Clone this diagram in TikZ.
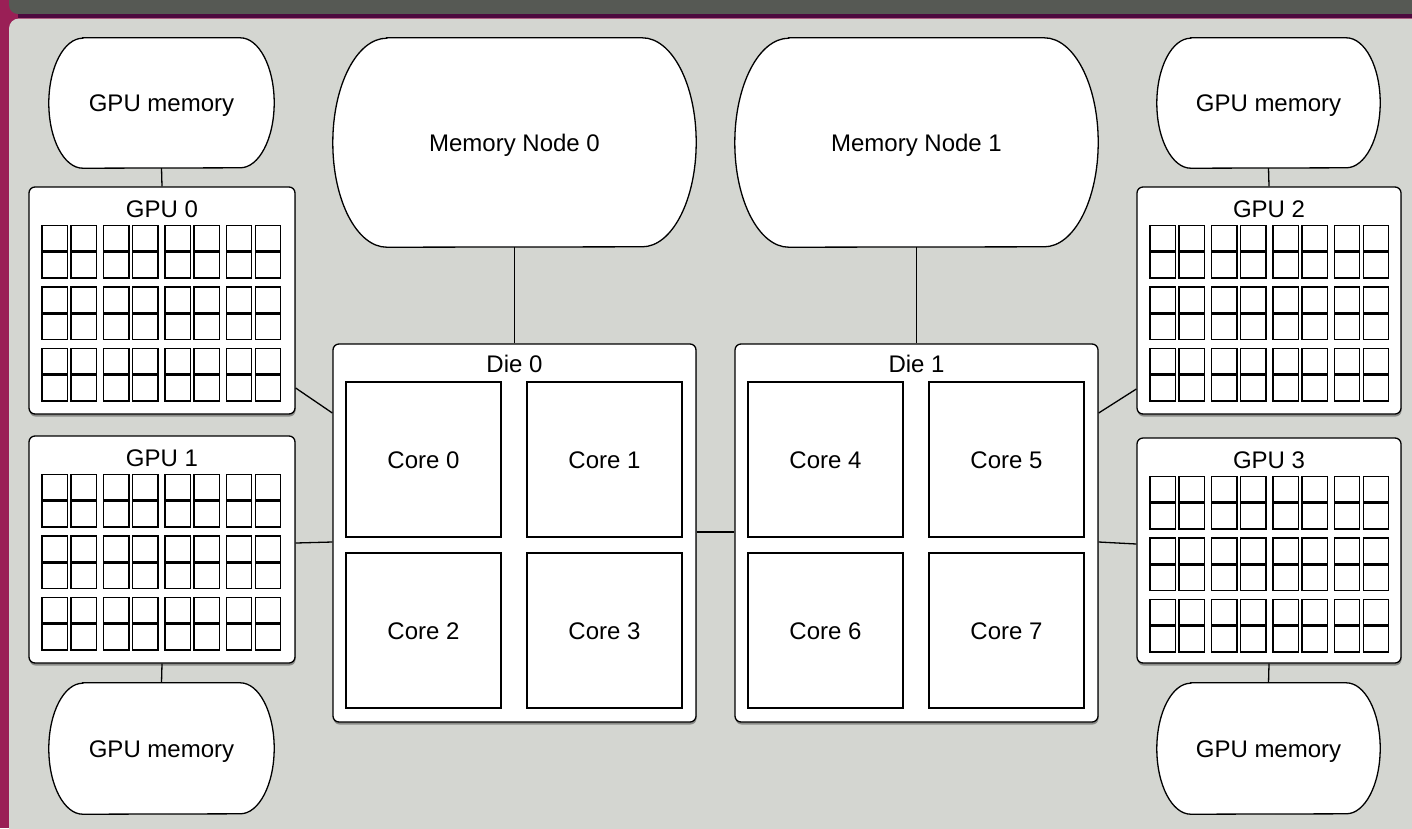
\documentclass[tikz,border=0pt]{standalone}
\usepackage{fontspec}
\setmainfont{Liberation Sans}
\usetikzlibrary{shadows}
\definecolor{maroon}{HTML}{9A1F56}
\definecolor{topbar}{HTML}{565954}
\definecolor{pline}{HTML}{4D0A3F}
\definecolor{panel}{HTML}{D4D6D1}
\pgfdeclarelayer{back}
\pgfdeclarelayer{shapes}
\pgfsetlayers{back,shapes,main}
\tikzset{
  lbl/.style={font=\fontsize{24}{28}\selectfont, text=black, inner sep=0pt, text height=17.2pt, text depth=0pt},
  memnode/.style={lbl, draw=none},
  memline/.style={draw=black, line width=1.3pt, fill=white},
  boxstyle/.style={draw=black, line width=1.3pt, fill=white, rounded corners=6pt, inner sep=0pt,
     drop shadow={shadow xshift=0.5pt, shadow yshift=-2.5pt, fill=black, opacity=0.35}},
  corestyle/.style={draw=black, line width=1.3pt, fill=white, inner sep=0pt,
     minimum width=155pt, minimum height=155pt, font=\fontsize{24}{28}\selectfont,
     text height=17.2pt, text depth=0pt},
  cell/.style={draw=black, line width=1.4pt, fill=white},
  wire/.style={draw=black, line width=1.3pt},
}
\newcommand\memdraw[3]{%
  \draw[memline] ([xshift=#2pt]#1.north west) -- ([xshift=-#2pt]#1.north east)
    arc[start angle=90, end angle=-90, x radius=#2pt, y radius=#3pt]
    -- ([xshift=#2pt]#1.south west)
    arc[start angle=270, end angle=90, x radius=#2pt, y radius=#3pt] -- cycle;}
\newcommand\gpugrid[1]{%
  \foreach \p in {0,1,2,3}{\foreach \c in {0,1}{\foreach \q in {0,1,2}{\foreach \r in {0,1}{%
    \draw[cell] ([xshift={13.7pt+\p*61.4pt+\c*29pt}, yshift={-39pt-\q*61.5pt-\r*27pt}]#1.north west) rectangle ++(25.5,25.5);}}}}}
\begin{document}
\begin{tikzpicture}[x=1pt,y=-1pt]
\useasboundingbox (0,0) rectangle (1412,828);
\begin{pgfonlayer}{back}
  \fill[maroon] (0,0) rectangle (1412,828);
  \fill[topbar, rounded corners=9pt] (9,-30) rectangle (1440,14);
  \fill[pline] (18,14) rectangle (1440,17.5);
  \fill[panel, rounded corners=10pt] (9,18.5) rectangle (1440,860);
\end{pgfonlayer}

% memory nodes
\node[memnode, minimum width=225pt, minimum height=130pt] (gm0) at (161.5,103) {GPU memory};
\node[memnode, minimum width=225pt, minimum height=131pt] (gm1) at (161.5,748.5) {GPU memory};
\node[memnode, minimum width=223pt, minimum height=130pt] (gm2) at (1268.5,103) {GPU memory};
\node[memnode, minimum width=223pt, minimum height=131pt] (gm3) at (1268.5,748.5) {GPU memory};
\node[memnode, minimum width=363pt, minimum height=209pt] (mn0) at (514.5,142.5) {Memory Node 0};
\node[memnode, minimum width=363pt, minimum height=209pt] (mn1) at (916.5,142.5) {Memory Node 1};
\begin{pgfonlayer}{shapes}
  \memdraw{gm0}{34}{65}
  \memdraw{gm1}{34}{65.5}
  \memdraw{gm2}{34}{65}
  \memdraw{gm3}{34}{65.5}
  \memdraw{mn0}{54}{104.5}
  \memdraw{mn1}{54}{104.5}
\end{pgfonlayer}

% GPUs
\node[boxstyle, minimum width=266pt, minimum height=227pt] (gpu0) at (162,300.5) {};
\node[boxstyle, minimum width=266pt, minimum height=227pt] (gpu1) at (162,549.5) {};
\node[boxstyle, minimum width=264pt, minimum height=227pt] (gpu2) at (1269,300.5) {};
\node[boxstyle, minimum width=264pt, minimum height=225pt] (gpu3) at (1269,550.5) {};
\node[lbl] (gpu0l) at ([yshift=-23pt]gpu0.north) {GPU 0};
\node[lbl] (gpu1l) at ([yshift=-23pt]gpu1.north) {GPU 1};
\node[lbl] (gpu2l) at ([yshift=-23pt]gpu2.north) {GPU 2};
\node[lbl] (gpu3l) at ([yshift=-23pt]gpu3.north) {GPU 3};
\gpugrid{gpu0}
\gpugrid{gpu1}
\gpugrid{gpu2}
\gpugrid{gpu3}

% dies
\node[boxstyle, minimum width=363pt, minimum height=378pt] (die0) at (514.5,533) {};
\node[boxstyle, minimum width=363pt, minimum height=378pt] (die1) at (916.5,533) {};
\node[lbl] (die0l) at ([yshift=-21pt]die0.north) {Die 0};
\node[lbl] (die1l) at ([yshift=-21pt]die1.north) {Die 1};
\node[corestyle] (c0) at (423.5,459.5) {Core 0};
\node[corestyle] (c1) at (604.5,459.5) {Core 1};
\node[corestyle] (c2) at (423.5,630.5) {Core 2};
\node[corestyle] (c3) at (604.5,630.5) {Core 3};
\node[corestyle] (c4) at (825.5,459.5) {Core 4};
\node[corestyle] (c5) at (1006.5,459.5) {Core 5};
\node[corestyle] (c6) at (825.5,630.5) {Core 6};
\node[corestyle] (c7) at (1006.5,630.5) {Core 7};

% connectors
\draw[wire] (gm0.south) -- (gpu0.north);
\draw[wire] (gpu1.south) -- (gm1.north);
\draw[wire] (gm2.south) -- (gpu2.north);
\draw[wire] (gpu3.south) -- (gm3.north);
\draw[wire] (mn0.south) -- (die0.north);
\draw[wire] (mn1.south) -- (die1.north);
\draw[wire] ([yshift=-87.5pt]gpu0.east) -- ([yshift=120pt]die0.west);
\draw[wire] ([yshift=6.5pt]gpu1.east) -- ([yshift=-9pt]die0.west);
\draw[wire] ([yshift=1pt]die0.east) -- ([yshift=1pt]die1.west);
\draw[wire] ([yshift=120pt]die1.east) -- ([yshift=-88.5pt]gpu2.west);
\draw[wire] ([yshift=-9pt]die1.east) -- ([yshift=6.5pt]gpu3.west);
\end{tikzpicture}
\end{document}
